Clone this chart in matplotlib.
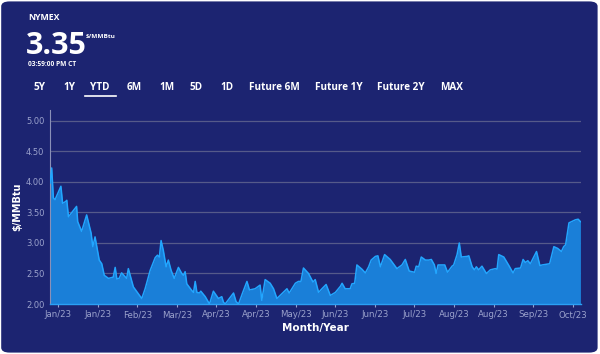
import matplotlib
matplotlib.use("Agg")
import matplotlib.pyplot as plt
import numpy as np
from matplotlib.patches import FancyBboxPatch

# trading-day position and settle price ($/MMBtu)
days = [0.0, 0.6, 1.2, 1.8, 3.9, 4.5, 5.6, 6.0, 6.6, 9.5, 9.9, 11.3, 13.1, 14.7, 15.3, 16.1,
        17.6, 18.5, 19.4, 20.9, 22.6, 23.3, 23.9, 24.7, 25.6, 27.4, 28.0, 29.8, 32.8, 34.0,
        35.8, 37.6, 38.4, 39.1, 39.7, 40.5, 41.5, 42.3, 43.3, 44.4, 45.9, 47.1, 47.7, 48.3,
        48.9, 50.7, 51.3, 51.9, 52.5, 53.4, 53.9, 55.5, 57.0, 58.4, 60.2, 61.4, 62.0, 62.6,
        65.6, 66.5, 67.4, 68.9, 70.4, 71.3, 73.3, 75.1, 75.7, 76.9, 78.7, 79.9, 81.1, 84.7,
        85.5, 87.7, 88.8, 89.7, 90.6, 92.4, 94.0, 94.8, 96.0, 97.2, 98.7, 100.2, 102.0, 103.8,
        104.4, 105.5, 107.3, 107.9, 108.9, 109.7, 111.5, 112.7, 113.9, 114.8, 116.3, 117.2,
        118.1, 119.6, 121.6, 124.0, 125.8, 127.0, 128.4, 130.3, 130.9, 131.8, 132.7, 134.2,
        135.4, 136.3, 137.4, 138.0, 138.7, 141.1, 142.1, 143.7, 144.3, 145.5, 146.3, 147.0,
        149.1, 149.7, 150.9, 151.7, 152.4, 153.2, 154.4, 156.0, 157.4, 159.2, 159.8, 160.4,
        162.2, 163.9, 165.5, 166.3, 168.2, 169.1, 169.9, 170.8, 171.7, 173.9, 175.1, 175.9,
        178.6, 180.1, 181.5, 182.8, 183.6, 184.3, 185.5, 187.8, 188.8, 189.6]
prices = [3.98, 4.23, 3.74, 3.71, 3.93, 3.65, 3.68, 3.70, 3.43, 3.60, 3.35, 3.19, 3.46, 3.16, 2.94, 3.10,
          2.72, 2.66, 2.47, 2.42, 2.44, 2.60, 2.41, 2.42, 2.51, 2.42, 2.58, 2.28, 2.09, 2.25,
          2.55, 2.76, 2.80, 2.77, 3.04, 2.88, 2.61, 2.72, 2.55, 2.42, 2.60, 2.50, 2.47, 2.53,
          2.33, 2.22, 2.19, 2.37, 2.19, 2.18, 2.21, 2.12, 2.00, 2.21, 2.09, 2.12, 2.03, 2.00,
          2.18, 2.04, 2.00, 2.19, 2.37, 2.23, 2.25, 2.31, 2.06, 2.40, 2.34, 2.25, 2.09, 2.25,
          2.18, 2.34, 2.37, 2.37, 2.59, 2.50, 2.36, 2.40, 2.19, 2.25, 2.32, 2.14, 2.19, 2.29,
          2.34, 2.25, 2.25, 2.33, 2.34, 2.64, 2.57, 2.51, 2.61, 2.72, 2.78, 2.79,
          2.61, 2.81, 2.73, 2.58, 2.64, 2.73, 2.54, 2.52, 2.62, 2.61, 2.77, 2.72,
          2.72, 2.73, 2.64, 2.50, 2.64, 2.64, 2.52, 2.62, 2.64, 2.81, 3.00, 2.77,
          2.78, 2.79, 2.61, 2.56, 2.61, 2.56, 2.62, 2.50, 2.56, 2.58, 2.57, 2.81,
          2.77, 2.64, 2.51, 2.58, 2.59, 2.73, 2.68, 2.71, 2.66, 2.86, 2.63, 2.64,
          2.66, 2.94, 2.91, 2.86, 2.94, 2.97, 3.33, 3.38, 3.39, 3.35]

tick_labels = ["Jan/23", "Jan/23", "Feb/23", "Mar/23", "Apr/23", "Apr/23", "May/23",
               "Jun/23", "Jun/23", "Jul/23", "Aug/23", "Aug/23", "Sep/23", "Oct/23"]
y_ticks = [2.0, 2.5, 3.0, 3.5, 4.0, 4.5, 5.0]
tabs = ["5Y", "1Y", "YTD", "6M", "1M", "5D", "1D", "Future 6M", "Future 1Y", "Future 2Y", "MAX"]
last_price = "3.35"

navy = "#1c2471"
fig = plt.figure(figsize=(6, 3.54), dpi=100)
fig.patch.set_facecolor("white")
fig.patches.append(FancyBboxPatch((0.002, 0.004), 0.994, 0.992,
                                  boxstyle="round,pad=0,rounding_size=0.014",
                                  transform=fig.transFigure, facecolor=navy,
                                  edgecolor="none", zorder=-5))

ax = fig.add_axes([50 / 600, 1 - 304 / 354, 531 / 600, 194 / 354])
ax.set_zorder(2)
ax.set_facecolor(navy)
ax.fill_between(days, prices, 2.0, color="#1a7fd8", lw=0, zorder=2)
ax.plot(days, prices, color="#22a6ff", lw=1.1, zorder=3)
ax.set_xlim(0, 189.8)
ax.set_ylim(2.0, 5.18)

ax.set_yticks(y_ticks)
ax.set_yticklabels([f"{v:.2f}" for v in y_ticks])
ax.set_xticks(2.9 + 14.15 * np.arange(len(tick_labels)))
ax.set_xticklabels(tick_labels)
ax.grid(axis="y", color="#555a8a", lw=0.9, zorder=1)
ax.tick_params(axis="y", length=0, colors="#9ba2cc", labelsize=6.0, pad=4)
ax.tick_params(axis="x", length=2.5, color="#9ba2cc", colors="#9ba2cc", labelsize=6.2, pad=2)
for s in ["top", "right"]:
    ax.spines[s].set_visible(False)
ax.spines["left"].set_color("#8a90b8")
ax.spines["left"].set_linewidth(0.8)
ax.spines["bottom"].set_color("#2aa0f5")
ax.spines["bottom"].set_linewidth(1.0)
ax.spines["bottom"].set_zorder(4)

ax.set_xlabel("Month/Year", color="white", fontsize=7.5, fontweight="bold", labelpad=3)
ax.set_ylabel("$/MMBtu", color="white", fontsize=7, fontweight="bold", labelpad=3)

# header
hf = "Open Sans"
fig.text(28 / 600, 1 - 17 / 354, "NYMEX", color="white", fontsize=6.3, fontweight="bold",
         family=hf, va="center")
fig.text(26 / 600, 1 - 54 / 354, last_price, color="white", fontsize=22, fontweight="bold",
         family=hf, va="baseline")
fig.text(86 / 600, 1 - 36 / 354, "$/MMBtu", color="white", fontsize=4.6, fontweight="bold",
         family=hf, va="center")
fig.text(28 / 600, 1 - 64 / 354, "03:59:00 PM CT", color="white", fontsize=4.8, fontweight="bold",
         family=hf, va="center")

tab_x = [34, 63, 90, 127, 159, 189, 220, 249, 315, 377, 440]
for tx, lab in zip(tab_x, tabs):
    fig.text(tx / 600, 1 - 88 / 354, lab, color="white", fontsize=7.2, fontweight="bold",
             family=hf, va="center")
fig.add_artist(plt.Line2D([85 / 600, 116 / 600], [1 - 96 / 354, 1 - 96 / 354],
                          color="white", lw=1.2, transform=fig.transFigure))

fig.savefig("out.png", dpi=100, facecolor=fig.get_facecolor())
